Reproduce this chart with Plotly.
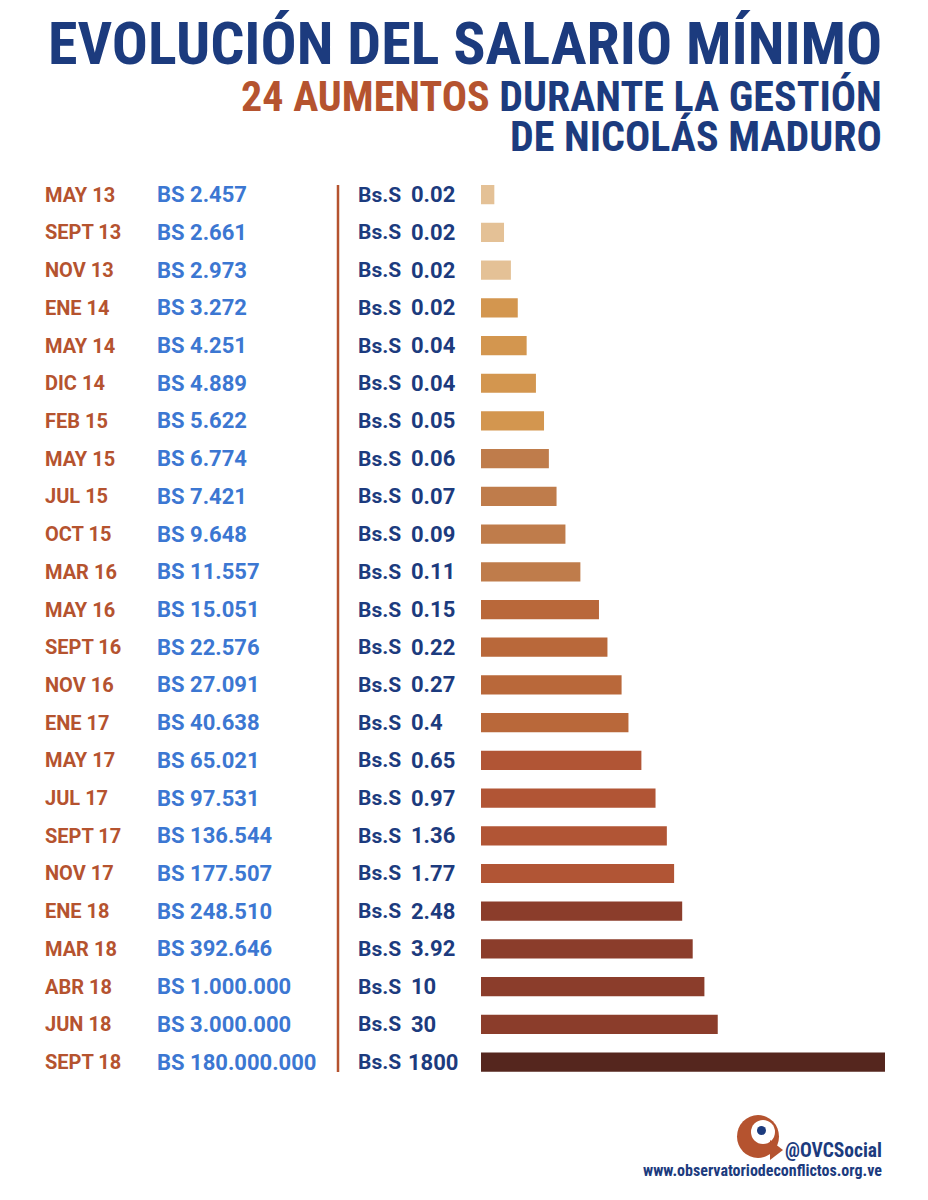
import plotly.graph_objects as go

# --- datos ---
fechas = ['MAY 13', 'SEPT 13', 'NOV 13', 'ENE 14', 'MAY 14', 'DIC 14', 'FEB 15',
          'MAY 15', 'JUL 15', 'OCT 15', 'MAR 16', 'MAY 16', 'SEPT 16', 'NOV 16',
          'ENE 17', 'MAY 17', 'JUL 17', 'SEPT 17', 'NOV 17', 'ENE 18', 'MAR 18',
          'ABR 18', 'JUN 18', 'SEPT 18']
salario_bs = ['2.457', '2.661', '2.973', '3.272', '4.251', '4.889', '5.622',
              '6.774', '7.421', '9.648', '11.557', '15.051', '22.576', '27.091',
              '40.638', '65.021', '97.531', '136.544', '177.507', '248.510',
              '392.646', '1.000.000', '3.000.000', '180.000.000']
salario_bss = ['0.02', '0.02', '0.02', '0.02', '0.04', '0.04', '0.05', '0.06',
               '0.07', '0.09', '0.11', '0.15', '0.22', '0.27', '0.4', '0.65',
               '0.97', '1.36', '1.77', '2.48', '3.92', '10', '30', '1800']
# largo ilustrativo de cada barra (escala 0-100)
largo_barra = [3.3, 5.7, 7.4, 9.1, 11.3, 13.6, 15.6, 16.8, 18.7, 20.9, 24.6, 29.2,
               31.3, 34.8, 36.5, 39.7, 43.2, 46.0, 47.8, 49.8, 52.4, 55.3, 58.6, 100]

_TONOS = ['#E4C196'] * 3 + ['#D3964F'] * 4 + ['#BF7C4B'] * 4 + ['#B9683A'] * 4 \
    + ['#B15535'] * 4 + ['#8B3D2B'] * 4 + ['#55261E']

_NAVY = '#1C3B7E'
_RUST = '#B5532F'
_BLUE = '#3C77D2'
_TITLE_FONT = 'Roboto Condensed, Roboto, sans-serif'
_ROW_FONT = 'Roboto, sans-serif'

# la pagina tiene 8px de margen en el body: la figura se corre 8px
OFF = 8
W, H = 912, 1184


def px(x):
    return (x - OFF) / W


def py(y):
    return 1 - (y - OFF) / H


fig = go.Figure()
fig.add_trace(go.Bar(
    x=largo_barra, y=list(range(len(fechas))), orientation='h',
    marker=dict(color=_TONOS, line=dict(width=0)),
    width=0.51, hoverinfo='skip',
))

anns = []
for i in range(len(fechas)):
    common = dict(xref='paper', yref='y', y=i, xanchor='left', yanchor='middle',
                  showarrow=False)
    anns.append(dict(x=px(43), text=fechas[i],
                     font=dict(family=_ROW_FONT, size=20, color=_RUST, weight='bold'), **common))
    anns.append(dict(x=px(155), text='BS ' + salario_bs[i],
                     font=dict(family=_ROW_FONT, size=22, color=_BLUE, weight='bold'), **common))
    anns.append(dict(x=px(356), text='Bs.S',
                     font=dict(family=_ROW_FONT, size=21, color=_NAVY, weight='bold'), **common))
    anns.append(dict(x=px(406 if salario_bss[i] == '1800' else 409),
                     text=salario_bss[i],
                     font=dict(family=_ROW_FONT, size=22, color=_NAVY, weight='bold'), **common))

# titulos
anns.append(dict(x=px(884), y=py(43), xref='paper', yref='paper', xanchor='right',
                 yanchor='middle', showarrow=False, text='EVOLUCIÓN DEL SALARIO MÍNIMO',
                 font=dict(family=_TITLE_FONT, size=60, color=_NAVY, weight='bold')))
anns.append(dict(x=px(884), y=py(97), xref='paper', yref='paper', xanchor='right',
                 yanchor='middle', showarrow=False,
                 text=f'<span style="color:{_RUST}">24 AUMENTOS</span> DURANTE LA GESTIÓN',
                 font=dict(family=_TITLE_FONT, size=42, color=_NAVY, weight='bold')))
anns.append(dict(x=px(884), y=py(136), xref='paper', yref='paper', xanchor='right',
                 yanchor='middle', showarrow=False, text='DE NICOLÁS MADURO',
                 font=dict(family=_TITLE_FONT, size=42, color=_NAVY, weight='bold')))
# pie
anns.append(dict(x=px(884), y=py(1150), xref='paper', yref='paper', xanchor='right',
                 yanchor='middle', showarrow=False, text='@OVCSocial',
                 font=dict(family=_TITLE_FONT, size=19.5, color=_NAVY, weight='bold')))
anns.append(dict(x=px(884), y=py(1170), xref='paper', yref='paper', xanchor='right',
                 yanchor='middle', showarrow=False, text='www.observatoriodeconflictos.org.ve',
                 font=dict(family=_TITLE_FONT, size=16, color=_NAVY, weight='bold')))

shapes = [
    # separador vertical
    dict(type='line', xref='paper', yref='paper', x0=px(338), x1=px(338),
         y0=py(185), y1=py(1072), line=dict(color=_RUST, width=2.5)),
    # logo
    dict(type='circle', xref='paper', yref='paper', x0=px(737), x1=px(779),
         y0=py(1158), y1=py(1115), fillcolor=_RUST, line=dict(width=0)),
    dict(type='circle', xref='paper', yref='paper', x0=px(751), x1=px(775),
         y0=py(1144), y1=py(1120), fillcolor='white', line=dict(width=0)),
    dict(type='path', xref='paper', yref='paper',
         path=f'M {px(770)} {py(1140)} L {px(783)} {py(1150)} L {px(770)} {py(1160)} Z',
         fillcolor=_RUST, line=dict(width=0)),
    dict(type='circle', xref='paper', yref='paper', x0=px(757), x1=px(766),
         y0=py(1135), y1=py(1126), fillcolor=_NAVY, line=dict(width=0)),
]

fig.update_layout(
    width=W, height=H,
    margin=dict(l=0, r=0, t=0, b=0),
    paper_bgcolor='white', plot_bgcolor='white',
    showlegend=False,
    annotations=anns, shapes=shapes,
    xaxis=dict(domain=[px(481), px(885)], range=[0, 100], visible=False, fixedrange=True),
    yaxis=dict(domain=[py(1080.9), py(175.85)], range=[23.5, -0.5], visible=False,
               fixedrange=True),
)

fig.write_html('out.html')
